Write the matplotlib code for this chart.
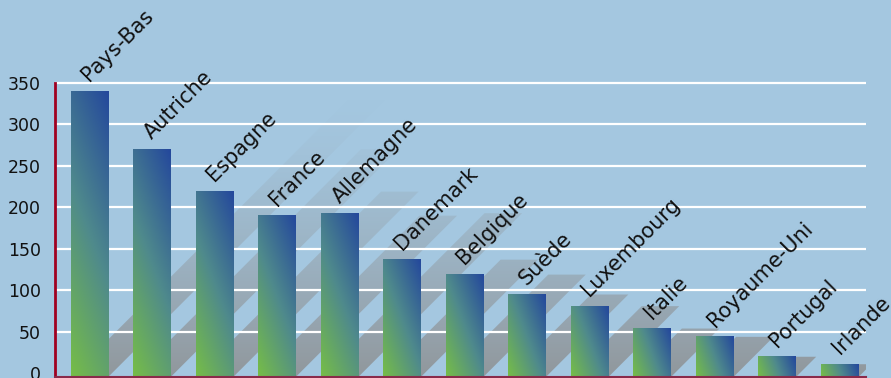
import numpy as np
import matplotlib.pyplot as plt
import matplotlib.transforms as mtransforms
from matplotlib.colors import LinearSegmentedColormap
from matplotlib.patches import Polygon

pays = ['Pays-Bas', 'Autriche', 'Espagne', 'France', 'Allemagne', 'Danemark',
        'Belgique', 'Suède', 'Luxembourg', 'Italie', 'Royaume-Uni', 'Portugal', 'Irlande']
valeurs = [340, 270, 219, 190, 193, 137, 119, 95, 81, 54, 44, 20, 11]
graduations = [0, 50, 100, 150, 200, 250, 300, 350]

fond = '#a4c7e0'
degrade = LinearSegmentedColormap.from_list('barre', ['#76bd47', '#4f8a8c', '#24489c'])

fig = plt.figure(figsize=(8.91, 3.78), dpi=100, facecolor=fond)
ax = fig.add_axes([55 / 891, 1 / 378, 811 / 891, 376 / 378])
ax.set_facecolor(fond)
ymin, ymax = -4.4, 448.7
xmin, xmax = -0.55, 12.42
ax.set_xlim(xmin, xmax)
ax.set_ylim(ymin, ymax)

# pixels par unite sur chaque axe
p0 = ax.transData.transform((0, 0))
px = ax.transData.transform((1, 0))[0] - p0[0]
py = ax.transData.transform((0, 1))[1] - p0[1]

largeur = 0.6

# ombres diagonales
ys = np.linspace(ymin, ymax, 300)
alpha = 0.8 * np.clip(1 - ys / 340, 0, 1) ** 1.5
ombre = np.zeros((len(ys), 1, 4))
ombre[:, 0, :3] = 0.55
ombre[:, 0, 3] = alpha
for i, v in enumerate(valeurs):
    x0 = i - largeur / 2
    x1 = i + largeur / 2
    s = (v - ymin) * py / px
    poly = Polygon([(x0, ymin), (x1, ymin), (x1 + s, v), (x0 + s, v)],
                   closed=True, transform=ax.transData)
    im = ax.imshow(ombre, extent=(xmin, xmax, ymin, ymax), origin='lower',
                   aspect='auto', zorder=1, interpolation='bilinear')
    im.set_clip_path(poly)

for g in graduations[1:]:
    ax.axhline(g, color='white', lw=1.6, zorder=2)

# barres en degrade
for i, v in enumerate(valeurs):
    x0 = i - largeur / 2
    x1 = i + largeur / 2
    w_px = largeur * px
    h_px = (v - ymin) * py
    A = 2.6 * w_px
    U, W = np.meshgrid(np.linspace(0, 1, 40), np.linspace(0, h_px, 200))
    t = (U * A + W) / (A + h_px)
    ax.imshow(degrade(t), extent=(x0, x1, ymin, v), origin='lower',
              aspect='auto', zorder=3, interpolation='bilinear')

decal = mtransforms.offset_copy(ax.transData, fig=fig, x=0, y=9, units='dots')
for i, (nom, v) in enumerate(zip(pays, valeurs)):
    ax.text(i, v, nom, transform=decal, rotation=45, rotation_mode='anchor',
            ha='left', va='baseline', fontsize=15, color='#111111', clip_on=False)

ax.set_xlim(xmin, xmax)
ax.set_ylim(ymin, ymax)
ax.set_xticks([])
ax.set_yticks(graduations)
ax.tick_params(axis='y', length=0, pad=10, labelsize=12.5, labelcolor='#111111')
ax.spines['top'].set_visible(False)
ax.spines['right'].set_visible(False)
ax.spines['left'].set_color('#a00020')
ax.spines['left'].set_linewidth(2)
ax.spines['left'].set_bounds(ymin, 350)
ax.spines['left'].set_zorder(4)
ax.spines['bottom'].set_color('#8a2a4a')
ax.spines['bottom'].set_linewidth(1.5)
ax.spines['bottom'].set_zorder(4)

fig.savefig('out.png', dpi=100, facecolor=fond)
